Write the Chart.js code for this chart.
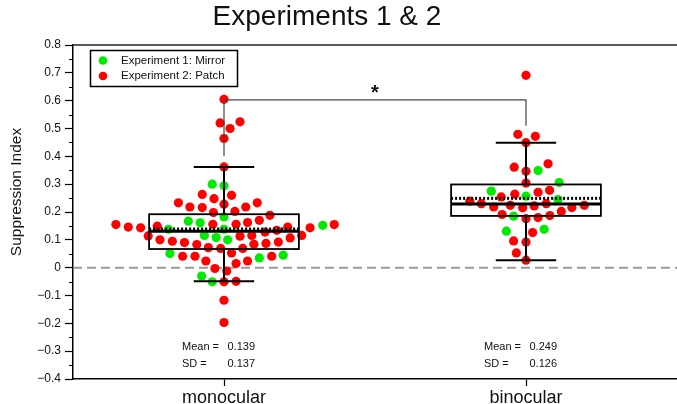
<!DOCTYPE html>
<html>
<head>
<meta charset="utf-8">
<script src="https://cdn.jsdelivr.net/npm/chart.js@4"></script>
<style>
  html, body { margin: 0; padding: 0; background: #fff; }
</style>
</head>
<body>
<canvas id="chart" width="677" height="404"></canvas>
<script>
const groups = ['monocular', 'binocular']
const groupCenters = [0.5, 1.5]

// monocular, experiment 1 (mirror) / experiment 2 (patch): value + horizontal swarm offset (x units)
const monoMirror = [0.30, 0.294, 0.182, 0.167, 0.161, 0.152, 0.138, 0.138, 0.10, 0.108, 0.116, 0.051, 0.035, 0.045, -0.03, -0.051]
const monoMirrorDx = [-0.039, 0, 0, -0.118, -0.079, 0.327, -0.184, 0, 0.012, -0.026, -0.065, -0.179, 0.117, 0.196, -0.074, -0.039]

const monoPatch = [0.605, 0.52, 0.50, 0.524, 0.464, 0.362,
  0.263, 0.248, 0.26,
  0.233, 0.218, 0.216, 0.228, 0.218, 0.233,
  0.198, 0.202, 0.188, 0.17,
  0.155, 0.146, 0.143, 0.149, 0.156, 0.156, 0.162,
  0.155, 0.143, 0.146, 0.134, 0.128,
  0.114, 0.116, 0.107, 0.092, 0.087, 0.084, 0.116, 0.113,
  0.10, 0.095, 0.09, 0.083, 0.072, 0.069, 0.053, 0.069,
  0.041, 0.041, 0.024, 0.024, 0.015, 0.041,
  -0.003, -0.012, -0.051, -0.049, -0.117, -0.197]
const monoPatchDx = [0, -0.013, 0.020, 0.053, 0, 0,
  -0.072, -0.033, 0.025,
  -0.151, -0.113, -0.072, 0, 0.072, 0.110,
  -0.035, 0.036, 0.152, 0.117,
  -0.358, -0.317, -0.276, -0.221, -0.037, 0.040, 0.078,
  0.365, 0.285, 0.211, 0.175, 0.136,
  -0.251, 0.257, 0.219, 0.180, 0.139, 0.099, 0.092, 0.053,
  -0.212, -0.171, -0.131, -0.090, -0.052, -0.011, 0.025, 0.062,
  -0.137, -0.096, -0.060, 0.078, 0.040, 0.158,
  -0.030, 0.009, 0, 0.040, 0, 0]

const binoMirror = [0.349, 0.306, 0.275, 0.257, 0.245, 0.185, 0.131, 0.138]
const binoMirrorDx = [0.040, 0.110, -0.115, 0, 0.106, -0.041, -0.065, 0.060]

const binoPatch = [0.691, 0.479, 0.472, 0.449, 0.361, 0.346, 0.373, 0.304, 0.278, 0.271, 0.264, 0.254,
  0.239, 0.23, 0.218, 0.224, 0.215, 0.222, 0.23, 0.216, 0.224, 0.202,
  0.191, 0.176, 0.18, 0.187, 0.126, 0.096, 0.092, 0.053, 0.027]
const binoPatchDx = [0, -0.027, 0.031, 0, -0.039, 0, 0.073, 0, 0.078, 0.040, -0.037, -0.082,
  -0.186, -0.148, -0.107, -0.052, -0.011, 0.027, 0.067, 0.152, 0.193, 0.117,
  -0.079, 0, 0.040, 0.079, 0.022, -0.041, 0, -0.032, 0]

// box plot summary per group
const q1 = [0.067, 0.186]
const q3 = [0.192, 0.299]
const medians = [0.131, 0.229]
const means = [0.139, 0.249]
const sds = [0.137, 0.126]
const whiskerLow = [-0.049, 0.027]
const whiskerHigh = [0.362, 0.449]

// significance bracket
const bracketTop = 0.603
const bracketEnds = [0.40, 0.51]

const yTicks = [-0.4, -0.3, -0.2, -0.1, 0, 0.1, 0.2, 0.3, 0.4, 0.5, 0.6, 0.7, 0.8]

const GREEN = 'rgb(0,235,0)'
const RED = 'rgb(255,0,0)'
const FONT = '"Liberation Sans", Arial, Helvetica, sans-serif'

function pts(vals, dx, g) {
  return vals.map((v, i) => ({ x: groupCenters[g] + dx[i], y: v }))
}

const overlay = {
  id: 'overlay',
  beforeDatasetsDraw(chart) {
    const { ctx, chartArea: a, scales: { y } } = chart
    ctx.save()
    ctx.strokeStyle = '#9a9a9a'
    ctx.lineWidth = 2
    ctx.setLineDash([9, 5])
    const y0 = y.getPixelForValue(0)
    ctx.beginPath(); ctx.moveTo(a.left, y0); ctx.lineTo(a.right, y0); ctx.stroke()
    ctx.restore()
  },
  afterDatasetsDraw(chart) {
    const { ctx, scales: { x, y } } = chart
    ctx.save()
    ctx.strokeStyle = '#000'
    groupCenters.forEach((c, g) => {
      const cx = x.getPixelForValue(c)
      const bl = x.getPixelForValue(c - 0.248), br = x.getPixelForValue(c + 0.248)
      const cl = x.getPixelForValue(c - 0.1), cr = x.getPixelForValue(c + 0.1)
      // whiskers
      ctx.lineWidth = 2
      ctx.beginPath()
      ctx.moveTo(cx, y.getPixelForValue(q3[g])); ctx.lineTo(cx, y.getPixelForValue(whiskerHigh[g]))
      ctx.moveTo(cx, y.getPixelForValue(q1[g])); ctx.lineTo(cx, y.getPixelForValue(whiskerLow[g]))
      ctx.moveTo(cl, y.getPixelForValue(whiskerHigh[g])); ctx.lineTo(cr, y.getPixelForValue(whiskerHigh[g]))
      ctx.moveTo(cl, y.getPixelForValue(whiskerLow[g])); ctx.lineTo(cr, y.getPixelForValue(whiskerLow[g]))
      ctx.stroke()
      // box
      ctx.lineWidth = 1.8
      const yt = y.getPixelForValue(q3[g]), yb = y.getPixelForValue(q1[g])
      ctx.strokeRect(bl, yt, br - bl, yb - yt)
      // median
      ctx.lineWidth = 3
      ctx.beginPath()
      ctx.moveTo(bl, y.getPixelForValue(medians[g])); ctx.lineTo(br, y.getPixelForValue(medians[g]))
      ctx.stroke()
      // mean (dotted)
      ctx.setLineDash([2, 2])
      ctx.beginPath()
      ctx.moveTo(bl, y.getPixelForValue(means[g])); ctx.lineTo(br, y.getPixelForValue(means[g]))
      ctx.stroke()
      ctx.setLineDash([])
    })
    // bracket
    const x0 = x.getPixelForValue(groupCenters[0]), x1 = x.getPixelForValue(groupCenters[1])
    ctx.strokeStyle = '#444'
    ctx.lineWidth = 1.2
    ctx.beginPath()
    ctx.moveTo(x0, y.getPixelForValue(bracketEnds[0]))
    ctx.lineTo(x0, y.getPixelForValue(bracketTop))
    ctx.lineTo(x1, y.getPixelForValue(bracketTop))
    ctx.lineTo(x1, y.getPixelForValue(bracketEnds[1]))
    ctx.stroke()
    ctx.restore()
  },
  afterDraw(chart) {
    const { ctx, chartArea: a, scales: { x, y } } = chart
    ctx.save()
    // top frame
    ctx.strokeStyle = '#222'
    ctx.lineWidth = 1.3
    ctx.beginPath(); ctx.moveTo(a.left, a.top); ctx.lineTo(a.right, a.top); ctx.stroke()
    // minor y ticks
    ctx.strokeStyle = '#000'
    ctx.lineWidth = 1
    for (let i = 0; i < yTicks.length - 1; i++) {
      const py = Math.round(y.getPixelForValue((yTicks[i] + yTicks[i + 1]) / 2)) + 0.5
      ctx.beginPath(); ctx.moveTo(a.left - 4, py); ctx.lineTo(a.left, py); ctx.stroke()
    }
    ctx.fillStyle = '#111'
    // title
    ctx.font = '28px ' + FONT
    ctx.textAlign = 'center'
    ctx.textBaseline = 'alphabetic'
    ctx.fillText('Experiments 1 & 2', 327, 25)
    // y title
    ctx.save()
    ctx.translate(17, 192)
    ctx.rotate(-Math.PI / 2)
    ctx.font = '15.5px ' + FONT
    ctx.textBaseline = 'middle'
    ctx.fillText('Suppression Index', 0, 0)
    ctx.restore()
    // asterisk
    ctx.font = 'bold 20px ' + FONT
    ctx.fillText('*', (x.getPixelForValue(groupCenters[0]) + x.getPixelForValue(groupCenters[1])) / 2, 99)
    // legend
    ctx.strokeStyle = '#000'
    ctx.lineWidth = 1.5
    ctx.strokeRect(90.5, 50.5, 147, 36)
    ctx.fillStyle = GREEN
    ctx.beginPath(); ctx.arc(103, 60.5, 4.3, 0, Math.PI * 2); ctx.fill()
    ctx.fillStyle = RED
    ctx.beginPath(); ctx.arc(103, 76, 4.3, 0, Math.PI * 2); ctx.fill()
    ctx.fillStyle = '#111'
    ctx.font = '11.5px ' + FONT
    ctx.textAlign = 'left'
    ctx.textBaseline = 'middle'
    ctx.fillText('Experiment 1: Mirror', 121, 60.5)
    ctx.fillText('Experiment 2: Patch', 121, 76)
    // mean / sd
    ctx.font = '11px ' + FONT
    groupCenters.forEach((c, g) => {
      const cx = x.getPixelForValue(c)
      ctx.fillText('Mean =', cx - 42, a.bottom - 32)
      ctx.fillText(means[g].toFixed(3), cx + 3.5, a.bottom - 32)
      ctx.fillText('SD =', cx - 42, a.bottom - 15.5)
      ctx.fillText(sds[g].toFixed(3), cx + 3.5, a.bottom - 15.5)
    })
    ctx.restore()
  }
}

new Chart(document.getElementById('chart'), {
  type: 'scatter',
  data: {
    datasets: [
      { label: 'Experiment 1: Mirror', data: pts(monoMirror, monoMirrorDx, 0).concat(pts(binoMirror, binoMirrorDx, 1)), backgroundColor: GREEN },
      { label: 'Experiment 2: Patch', data: pts(monoPatch, monoPatchDx, 0).concat(pts(binoPatch, binoPatchDx, 1)), backgroundColor: RED }
    ]
  },
  options: {
    responsive: false,
    animation: false,
    layout: { autoPadding: false, padding: { top: 45, right: 0, left: 0, bottom: 0 } },
    elements: { point: { radius: 4.6, borderWidth: 0, hoverRadius: 4.6 } },
    plugins: { legend: { display: false }, tooltip: { enabled: false } },
    scales: {
      x: {
        type: 'linear', min: 0, max: 2,
        afterFit: s => { s.height = 25 },
        afterBuildTicks: s => { s.ticks = groupCenters.map(v => ({ value: v })) },
        ticks: {
          callback: v => groups[groupCenters.indexOf(v)],
          color: '#111', padding: 1,
          font: { family: FONT, size: 18 }
        },
        grid: { drawOnChartArea: false, drawTicks: true, tickLength: 7, color: '#000', tickWidth: 1.2 },
        border: { display: true, color: '#000', width: 1.5 }
      },
      y: {
        min: -0.4, max: 0.8,
        afterFit: s => { s.width = 73 },
        afterBuildTicks: s => { s.ticks = yTicks.map(v => ({ value: v })) },
        ticks: {
          callback: v => v === 0 ? '0' : (v < 0 ? '\u2212' : '') + Math.abs(v).toFixed(1),
          color: '#111', padding: 4,
          font: { family: FONT, size: 12 }
        },
        grid: { drawOnChartArea: false, drawTicks: true, tickLength: 8, color: '#000', tickWidth: 1.2 },
        border: { display: true, color: '#000', width: 1.5 }
      }
    }
  },
  plugins: [overlay]
})
</script>
</body>
</html>
